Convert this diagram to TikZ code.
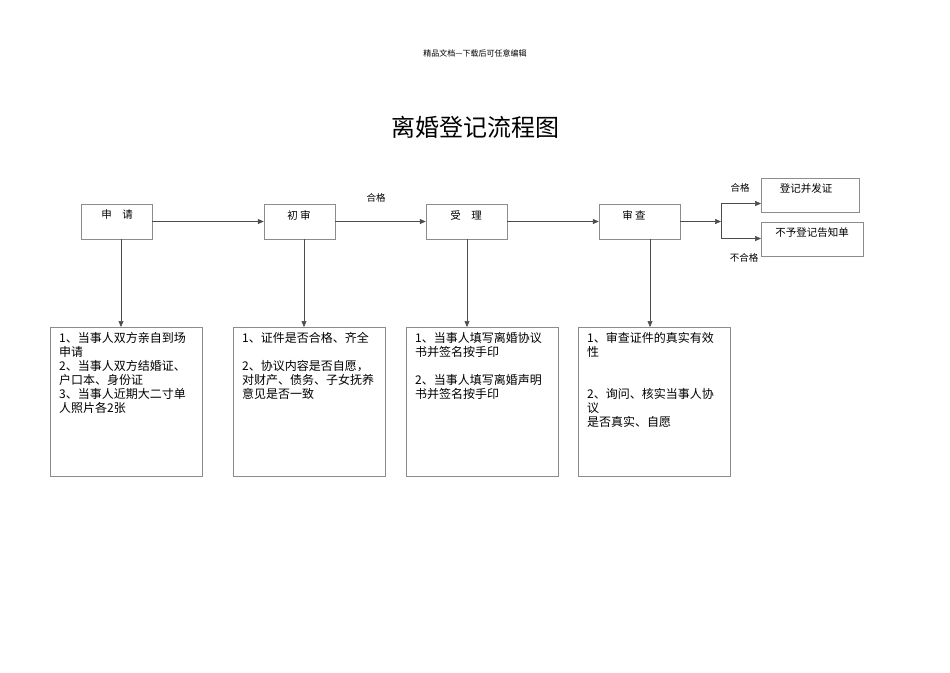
\documentclass[tikz,border=0pt]{standalone}
\usepackage{fontspec}
\setmainfont{Noto Sans CJK SC}
\usetikzlibrary{arrows.meta}
\begin{document}
\begin{tikzpicture}[x=1pt,y=-1pt,
  box/.style={draw=black!45,line width=0.5pt,minimum height=35pt,inner sep=0pt},
  blab/.style={font=\fontsize{10.5}{12}\selectfont,inner sep=0pt},
  big/.style={draw=black!45,line width=0.5pt,minimum width=152pt,minimum height=149pt,inner sep=0pt},
  txt/.style={anchor=north west,align=left,font=\fontsize{12}{14}\selectfont,inner sep=0pt},
  arr/.style={-{Triangle[length=6pt,width=5pt]},line width=0.5pt,black!70},
  lab/.style={font=\fontsize{9.5}{11}\selectfont,inner sep=0pt}]
\useasboundingbox (0,0) rectangle (950,672);
\node[font=\fontsize{8}{9}\selectfont] (hdr) at (475,53) {精品文档---下载后可任意编辑};
\node[font=\fontsize{24}{26}\selectfont] (title) at (475,127) {离婚登记流程图};
\node[box,minimum width=71pt] (a) at (116.5,221.5) {};
\node[box,minimum width=71pt] (b) at (299.5,221.5) {};
\node[box,minimum width=81pt] (c) at (466.5,221.5) {};
\node[box,minimum width=81pt] (d) at (639.5,221.5) {};
\node[blab] (at) at (117,215) {申\quad 请};
\node[blab] (bt) at (299,215) {初 审};
\node[blab] (ct) at (466,215) {受\quad 理};
\node[blab] (dt) at (634,215) {审 查};
\node[box,minimum width=98pt,anchor=north west,minimum height=34pt] (e) at (761,178) {};
\node[blab] (et) at (806,189) {登记并发证};
\node[box,minimum width=102pt,anchor=north west,minimum height=34pt] (f) at (761,222) {};
\node[blab] (ft) at (812,233) {不予登记告知单};
\draw[arr] (a.east) -- (b.west);
\draw[arr] (b.east) -- (c.west);
\node[lab] (hg) at (376,198) {合格};
\draw[arr] (c.east) -- (d.west);
\coordinate (s) at (721,221.5);
\coordinate (s1) at (721,203.5);
\coordinate (s2) at (721,238.5);
\draw[arr] (d.east) -- (s);
\draw[line width=0.5pt,black!70] (s1) -- (s2);
\draw[arr] (s1) -- (e.west |- s1);
\draw[arr] (s2) -- (f.west |- s2);
\node[lab] (hg2) at (740,188) {合格};
\node[lab] (bhg) at (744,258) {不合格};
\node[big,anchor=north west] (A) at (50,327) {};
\node[big,anchor=north west] (B) at (233,327) {};
\node[big,anchor=north west] (C) at (406,327) {};
\node[big,anchor=north west] (D) at (578,327) {};
\coordinate (pa) at (121,239);
\coordinate (pb) at (304,239);
\coordinate (pc) at (467,239);
\coordinate (pd) at (650,239);
\draw[arr] (pa) -- (pa |- A.north);
\draw[arr] (pb) -- (pb |- B.north);
\draw[arr] (pc) -- (pc |- C.north);
\draw[arr] (pd) -- (pd |- D.north);
\node[txt] (At) at (59,332) {1、当事人双方亲自到场\\申请\\2、当事人双方结婚证、\\户口本、身份证\\3、当事人近期大二寸单\\人照片各2张};
\node[txt] (Bt) at (242,332) {1、证件是否合格、齐全\\[14pt]2、协议内容是否自愿，\\对财产、债务、子女抚养\\意见是否一致};
\node[txt] (Ct) at (415,332) {1、当事人填写离婚协议\\书并签名按手印\\[14pt]2、当事人填写离婚声明\\书并签名按手印};
\node[txt] (Dt) at (587,332) {1、审查证件的真实有效\\性\\[28pt]2、询问、核实当事人协\\议\\是否真实、自愿};
\end{tikzpicture}
\end{document}
